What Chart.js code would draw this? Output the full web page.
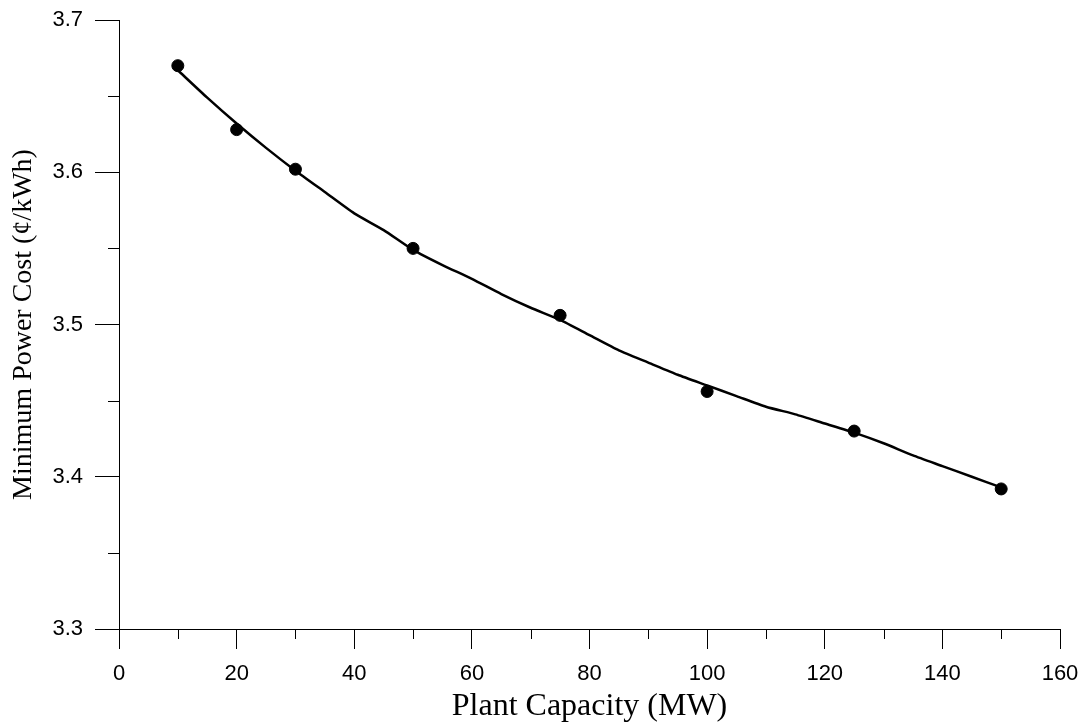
<!DOCTYPE html>
<html>
<head>
<meta charset="utf-8">
<title>Minimum Power Cost vs Plant Capacity</title>
<script src="https://cdn.jsdelivr.net/npm/chart.js"></script>
<style>
  body { margin: 0; background: #fff; }
  #wrap { width: 1088px; height: 728px; }
</style>
</head>
<body>
<div id="wrap"><canvas id="costChart" width="1088" height="728"></canvas></div>
<script>
// Measured points (plant capacity in MW, cost in cents/kWh)
const capacity = [10, 20, 30, 50, 75, 100, 125, 150];
const minCost = [3.670, 3.628, 3.602, 3.550, 3.506, 3.456, 3.430, 3.392];

// Fitted curve
const fitCapacity = [10, 15, 20, 25, 30, 35, 40, 45, 50, 55, 60, 65, 70, 75, 80, 85, 90, 95, 100,
  105, 110, 115, 120, 125, 130, 135, 140, 145, 150];
const fitCost = [3.667, 3.649, 3.632, 3.616, 3.601, 3.587, 3.573, 3.562, 3.549, 3.539, 3.530,
  3.520, 3.511, 3.503, 3.493, 3.483, 3.475, 3.467, 3.460, 3.453, 3.446, 3.441, 3.435, 3.429,
  3.422, 3.414, 3.407, 3.400, 3.393];

// Axis ticks
const xMajorStep = 20;
const yMajorStep = 0.1;
const xMinorTicks = [10, 30, 50, 70, 90, 110, 130, 150];
const yMinorTicks = [3.35, 3.45, 3.55, 3.65];

// Small ticks between the labelled ones
const minorTicks = {
  id: 'minorTicks',
  afterDraw(chart) {
    const { ctx, scales: { x, y } } = chart;
    ctx.save();
    ctx.strokeStyle = '#000';
    ctx.lineWidth = 1;
    ctx.beginPath();
    xMinorTicks.forEach(v => {
      const px = Math.round(x.getPixelForValue(v)) + 0.5;
      ctx.moveTo(px, y.bottom);
      ctx.lineTo(px, y.bottom + 10);
    });
    yMinorTicks.forEach(v => {
      const py = Math.round(y.getPixelForValue(v)) + 0.5;
      ctx.moveTo(x.left - 11, py);
      ctx.lineTo(x.left, py);
    });
    ctx.stroke();
    ctx.restore();
  }
};

const tickFont = { family: '"Liberation Sans", Arial, sans-serif', size: 22 };
const xTitleFont = { family: '"Liberation Serif", "Times New Roman", serif', size: 32 };
const yTitleFont = { family: '"Liberation Serif", "Times New Roman", serif', size: 28 };

new Chart(document.getElementById('costChart'), {
  type: 'scatter',
  data: {
    datasets: [
      {
        label: 'Minimum power cost',
        data: capacity.map((c, i) => ({ x: c, y: minCost[i] })),
        backgroundColor: '#000',
        borderColor: '#000',
        pointRadius: 6,
        pointHoverRadius: 6,
      },
      {
        type: 'line',
        label: 'Fit',
        data: fitCapacity.map((c, i) => ({ x: c, y: fitCost[i] })),
        borderColor: '#000',
        borderWidth: 2.5,
        pointRadius: 0,
        tension: 0.2,
        fill: false,
      },
    ],
  },
  options: {
    responsive: false,
    animation: false,
    layout: { padding: { left: 0, right: 28, top: 20, bottom: 0 } },
    plugins: {
      legend: { display: false },
      tooltip: { enabled: false },
    },
    scales: {
      x: {
        type: 'linear',
        min: 0,
        max: 160,
        afterFit(scale) {
          scale.height = 99;
          scale.paddingLeft = 0;
          scale.paddingRight = 0;
        },
        border: { display: true, color: '#000', width: 1 },
        grid: { drawOnChartArea: false, drawTicks: true, tickLength: 20, color: '#000', lineWidth: 1 },
        ticks: { stepSize: xMajorStep, color: '#000', font: tickFont, padding: 12, maxRotation: 0 },
        title: { display: true, text: 'Plant Capacity (MW)', color: '#000', font: xTitleFont, padding: { top: 0, bottom: 2 } },
      },
      y: {
        type: 'linear',
        min: 3.3,
        max: 3.7,
        afterFit(scale) {
          scale.width = 119;
          scale.paddingTop = 0;
          scale.paddingBottom = 0;
        },
        border: { display: true, color: '#000', width: 1 },
        grid: { drawOnChartArea: false, drawTicks: true, tickLength: 24, color: '#000', lineWidth: 1 },
        ticks: {
          stepSize: yMajorStep,
          color: '#000',
          font: tickFont,
          padding: 12,
          callback: v => v.toFixed(1),
        },
        title: { display: true, text: 'Minimum Power Cost (¢/kWh)', color: '#000', font: yTitleFont, padding: { top: 7, bottom: 0 } },
      },
    },
  },
  plugins: [minorTicks],
});
</script>
</body>
</html>
